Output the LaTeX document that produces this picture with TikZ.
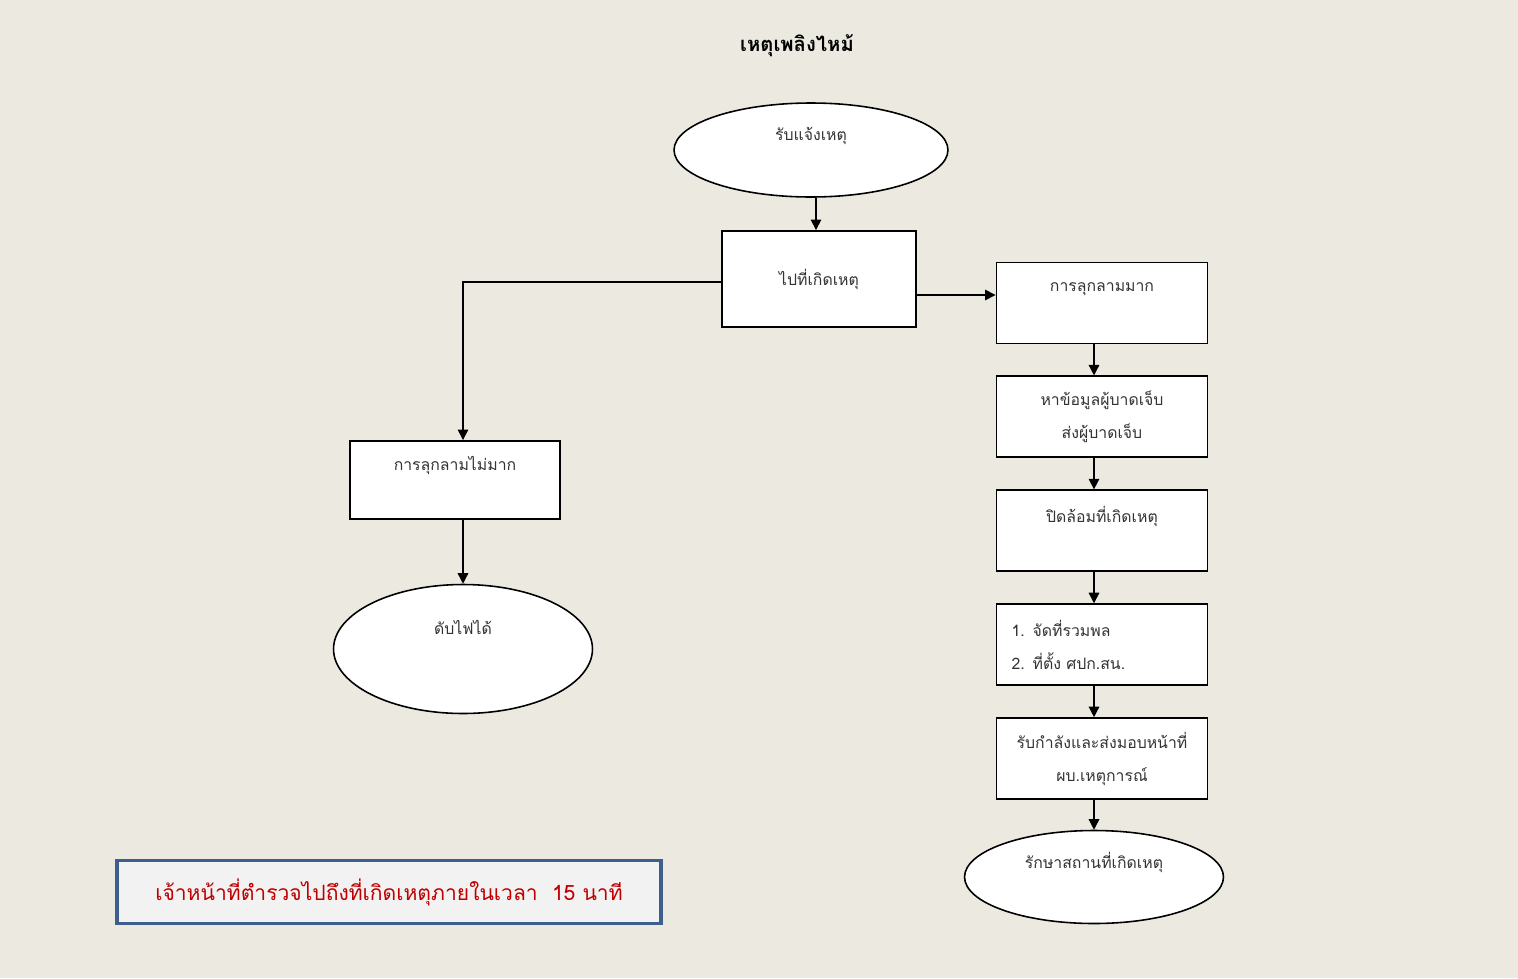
\documentclass[tikz,border=0pt]{standalone}
\usepackage{fontspec}
\setmainfont{Liberation Sans}
\newfontfamily\thai[Script=Thai]{Loma}
\usetikzlibrary{arrows.meta,positioning,shapes.geometric}
\definecolor{paper}{HTML}{ECEAE0}
\definecolor{frame}{HTML}{3E5F8E}
\definecolor{note}{HTML}{F2F2F2}
\definecolor{alert}{HTML}{C00000}

\begin{document}
\begin{tikzpicture}[
  x=0.02cm,y=-0.02cm,
  node distance=6.2mm,
  txt/.style={font=\thai\fontsize{9}{18.7}\selectfont,text=black!80},
  box/.style={txt,draw,fill=white,line width=1.1pt,minimum width=4.22cm,minimum height=1.62cm,align=center,inner sep=0pt},
  oval/.style={txt,ellipse,draw,fill=white,line width=0.9pt,align=center,inner sep=0pt},
  arrow/.style={-{Triangle[length=6pt,width=6pt]},line width=0.8pt}
]
\fill[paper] (0,0) rectangle (1518,978);
\useasboundingbox (0,0) rectangle (1518,978);

\node[font=\thai\bfseries\fontsize{11.5}{14}\selectfont] (title) at (797,46) {เหตุเพลิงไหม้};

% main flow
\node[oval,minimum width=5.48cm,minimum height=1.88cm] (call) at (811,150) {รับแจ้งเหตุ\\\mbox{}};
\node[box,minimum width=3.88cm,minimum height=1.92cm] (go) at (819,279) {ไปที่เกิดเหตุ};

% small fire
\node[box,minimum width=4.2cm,minimum height=1.56cm] (small) at (455,480) {การลุกลามไม่มาก\\\mbox{}};
\node[oval,minimum width=5.18cm,minimum height=2.58cm] (out) at (463,649) {ดับไฟได้\\[6pt]\mbox{}};

% large fire
\node[box] (large) at (1102,303) {การลุกลามมาก\\\mbox{}};
\node[box,below=of large] (hurt) {หาข้อมูลผู้บาดเจ็บ\\ส่งผู้บาดเจ็บ};
\node[box,below=of hurt] (seal) {ปิดล้อมที่เกิดเหตุ\\\mbox{}};
\node[box,below=of seal,text width=3.62cm,align=left] (base) {1. จัดที่รวมพล\\2. ที่ตั้ง ศปก.สน.};
\node[box,below=of base] (hand) {รับกำลังและส่งมอบหน้าที่\\ผบ.เหตุการณ์};
\node[oval,minimum width=5.18cm,minimum height=1.86cm] (keep) at (1094,877) {รักษาสถานที่เกิดเหตุ\\\mbox{}};

\node[draw=frame,line width=2pt,fill=note,minimum width=10.88cm,minimum height=1.26cm,
  font=\thai\fontsize{12}{14}\selectfont,text=alert] (time) at (389,892)
  {เจ้าหน้าที่ตำรวจไปถึงที่เกิดเหตุภายในเวลา~~15 นาที};

\draw[arrow] (call.south -| 816,0) -- (go.north -| 816,0);
\draw[arrow] ([yshift=-0.06cm]go.west) -| (small.north -| out.north);
\draw[arrow] (small.south -| out.north) -- (out.north);
\draw[arrow] ([yshift=-0.32cm]go.east) -- ([yshift=-0.32cm]go.east -| large.west);
\draw[arrow] (large.south -| keep.north) -- (hurt.north -| keep.north);
\draw[arrow] (hurt.south -| keep.north) -- (seal.north -| keep.north);
\draw[arrow] (seal.south -| keep.north) -- (base.north -| keep.north);
\draw[arrow] (base.south -| keep.north) -- (hand.north -| keep.north);
\draw[arrow] (hand.south -| keep.north) -- (keep.north);
\end{tikzpicture}
\end{document}
